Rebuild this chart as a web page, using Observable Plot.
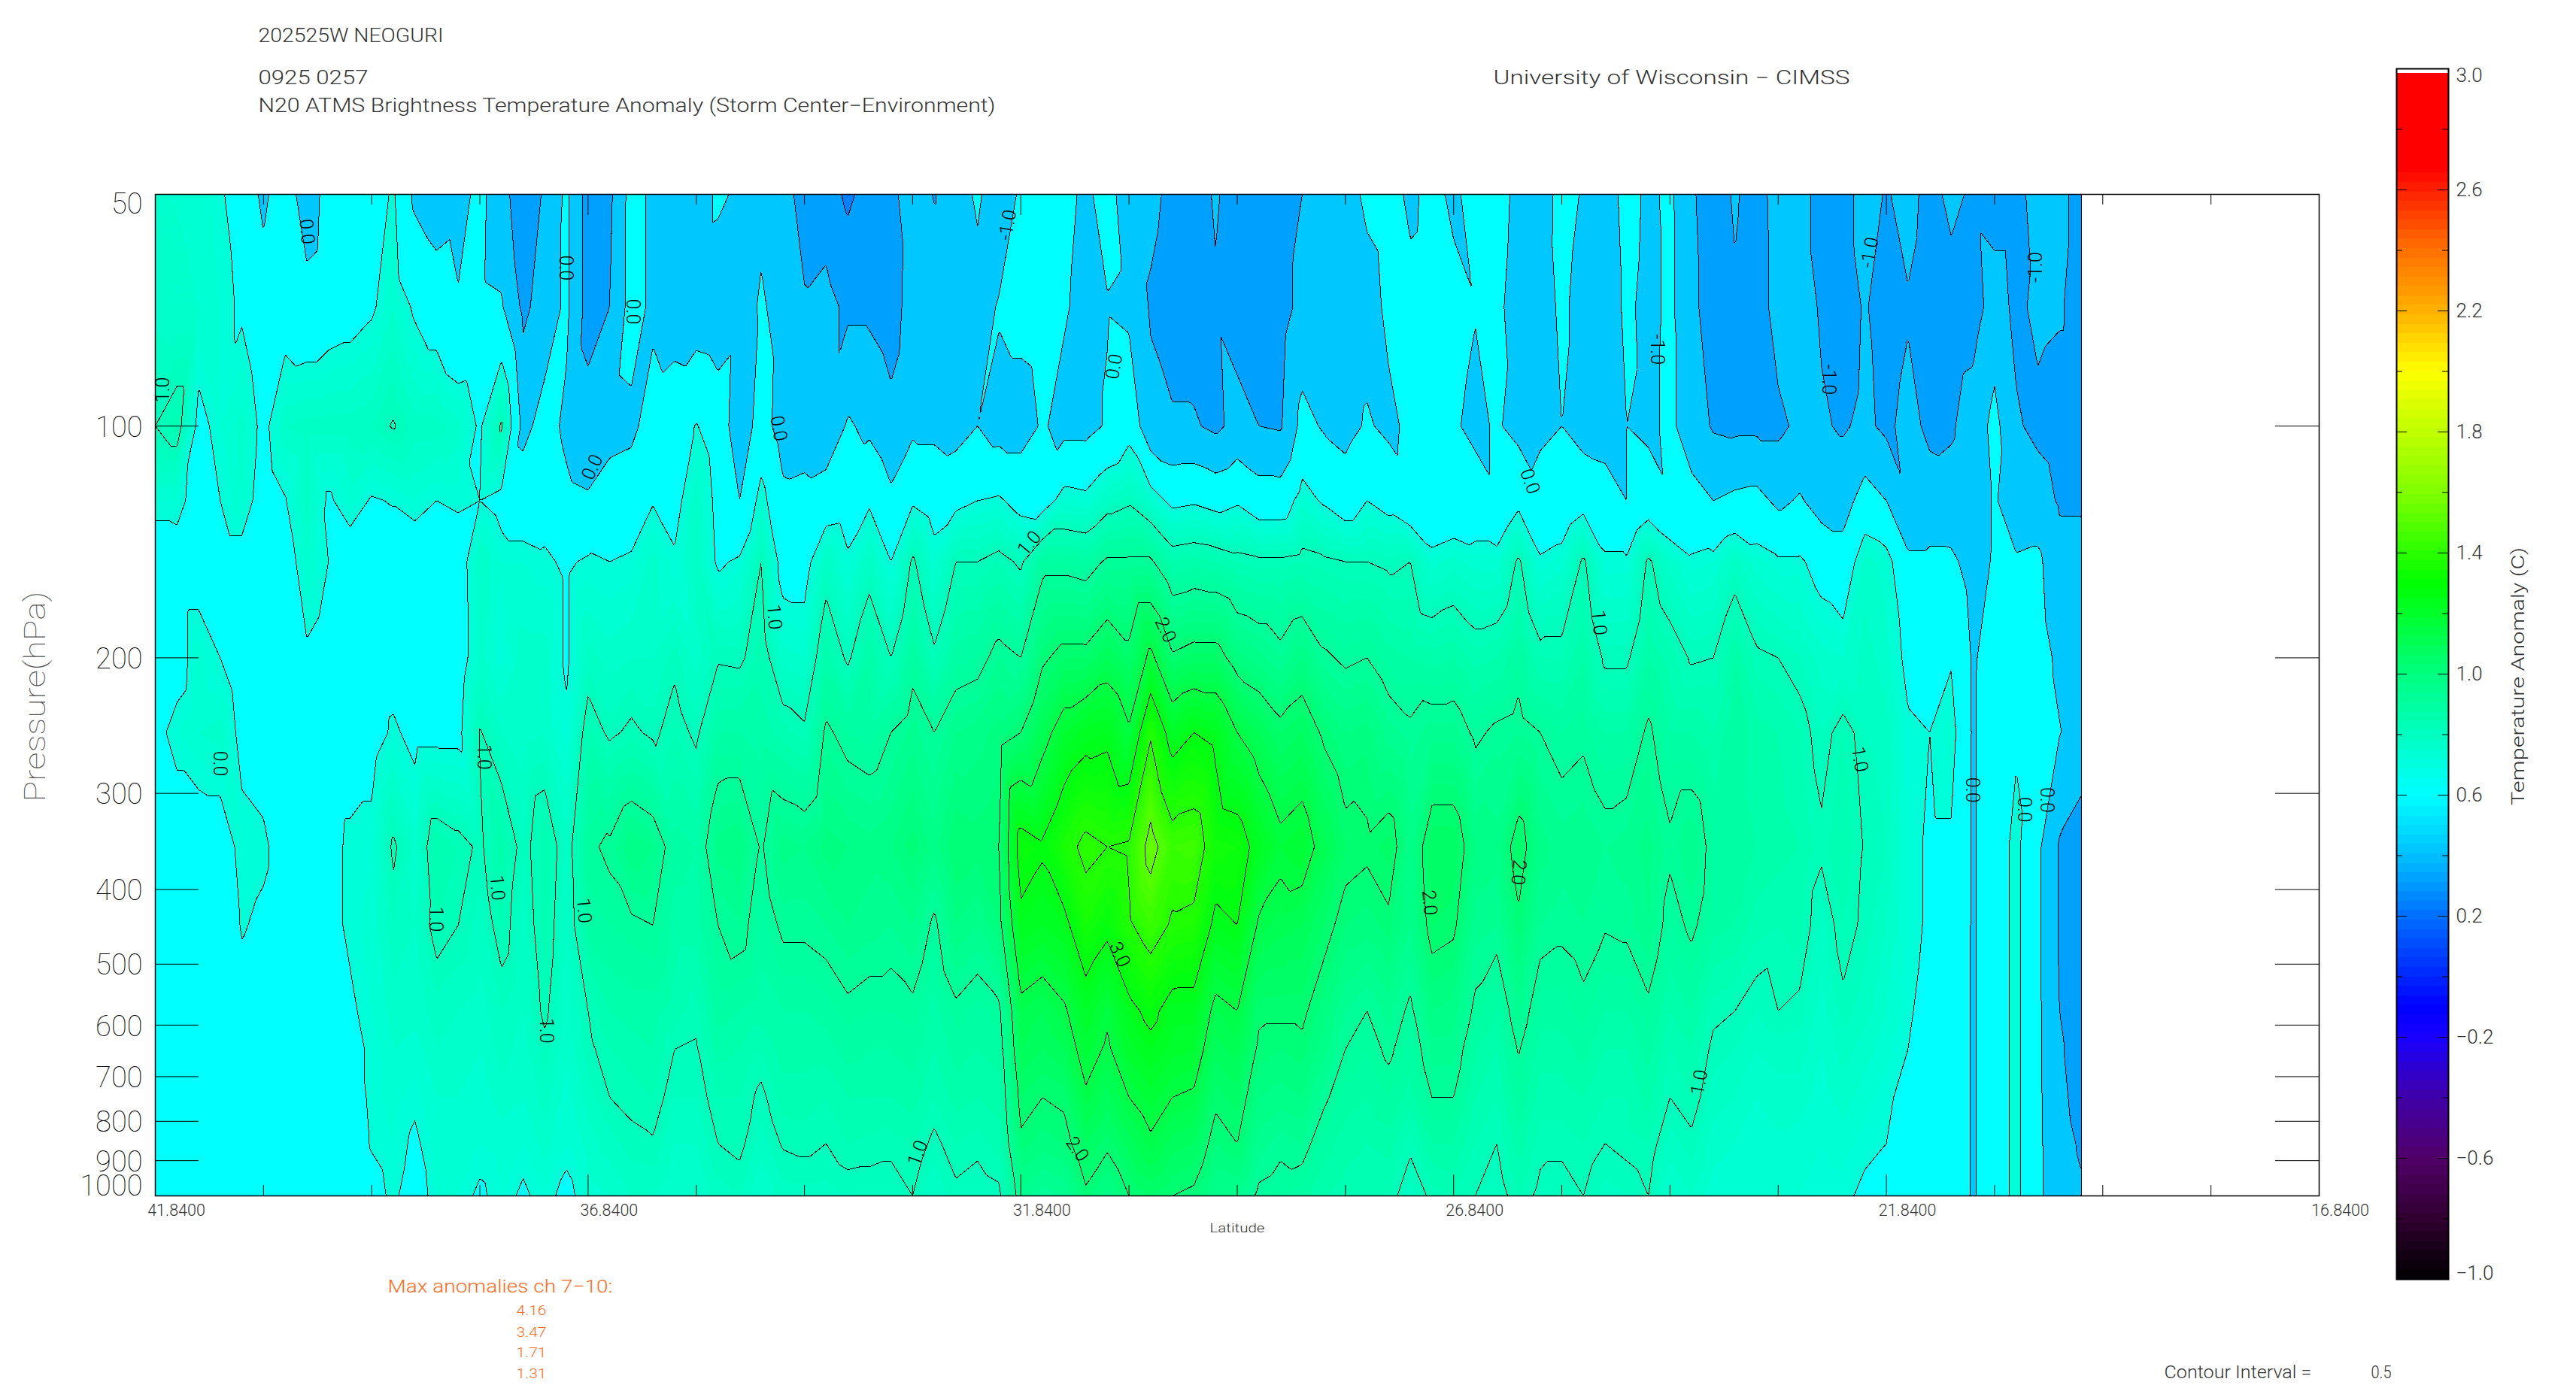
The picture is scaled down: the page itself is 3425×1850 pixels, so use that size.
<!DOCTYPE html>
<html><head><meta charset="utf-8">
<script src="https://cdn.jsdelivr.net/npm/d3@7"></script>
<script src="https://cdn.jsdelivr.net/npm/@observablehq/plot@0.6"></script>
<style>
html,body{margin:0;padding:0;background:#fff;width:3425px;height:1850px;overflow:hidden}
#stack{position:relative;width:3425px;height:1850px}
#stack svg{position:absolute;left:0;top:0;background:transparent}
</style></head><body><div id="stack"></div>
<script>
const lats=[41.84,41.59,41.34,41.09,40.84,40.59,40.34,40.09,39.84,39.59,39.34,39.09,38.84,38.59,38.34,38.09,37.84,37.59,37.34,37.09,36.84,36.59,36.34,36.09,35.84,35.59,35.34,35.09,34.84,34.59,34.34,34.09,33.84,33.59,33.34,33.09,32.84,32.59,32.34,32.09,31.84,31.59,31.34,31.09,30.84,30.59,30.34,30.09,29.84,29.59,29.34,29.09,28.84,28.59,28.34,28.09,27.84,27.59,27.34,27.09,26.84,26.59,26.34,26.09,25.84,25.59,25.34,25.09,24.84,24.59,24.34,24.09,23.84,23.59,23.34,23.09,22.84,22.59,22.34,22.09,21.84,21.59,21.34,21.09,20.84,20.59,20.34,20.09,19.84,19.59];
const p50=[.7,.7,.65,.55,.3,-.1,.3,-.3,.2,.3, .3,.55,-.1,-.3,-.2,.15,-.35,-.75,-.45,.1, -.7,-.6,.2,-.1,-.3,-.3,.1,-.1,-.1,-.3, -.7,-.75,-1.1,-.8,-.6,-.3,-.52,-.3,.1,-.4, .1,.2,.15,-.1,.2,-.3,-.4,-.6,-.7,-.45, -.7,-.7,-.7,-.5,-.3,-.2,.1,.2,-.1,.15, -.1,.2,.3,-.2,-.3,.2,-.05,-.3,.2,-.1, .1,-.45,-.7,-.45,-.7,-.3,-.3,-.7,-.75,-.25, -.55,-.3,-.7,-.35,-.6,-.7,-.7,-.25,-.35,-.7];
const p70=[.75,.7,.7,.6,.45,.2,.3,.2,.3,.35, .45,.7,.45,.3,.05,.1,.05,-.6,-.3,.1, -.7,-.5,.2,-.1,-.25,-.3,-.35,-.2,.05,-.15, -.45,-.35,-.6,-.6,-.75,-.25,-.3,-.3,-.25,.05, .15,.2,.05,-.15,-.03,-.1,-.55,-.7,-.75,-.55, -.7,-.7,-.7,-.35,-.3,-.25,-.2,.1,.15,.2, .15,.02,.15,-.3,-.25,.1,-.2,-.3,.1,-.15, .1,-.4,-.7,-.55,-.75,-.3,-.3,-.55,-.75,-.45, -.75,-.55,-.8,-.75,-.7,-.3,-.6,-.4,-.45,-.7];
const p100=[1.0,1.15,.4,.6,.75,.4,.8,.85,.85,.85, .9,1.02,.85,.85,.75,.45,1.05,-.15,.2,-.1, -.3,-.15,-.1,.2,.3,.52,.3,-.3,.2,-.2, -.25,-.35,.05,-.1,-.35,-.1,-.1,-.2,0,-.2, -.2,.05,-.15,-.15,.05,.35,-.35,-.45,-.45,-.6, -.35,-.5,-.55,.15,-.05,-.15,.05,-.1,.1,.15, .05,-.1,.05,-.15,-.05,0,-.2,-.25,0,-.1, .1,-.25,-.55,-.6,-.6,-.6,-.4,-.45,-.55,-.4, -.6,-.35,-.6,-.55,-.3,.15,-.45,-.6,-.7,-.7];
const p125=[.6,.6,.35,.5,.7,.3,.48,.85,.45,.65, .47,.52,.6,.5,.55,.5,.4,.3,.35,.1, .05,.2,.25,.48,.35,.8,.4,0,.65,.1, .15,.25,.3,.45,.1,.45,.3,.4,.5,.55, .35,.3,.65,.6,.85,.95,.7,.4,.45,.35, .45,.25,.25,.65,.45,.25,.5,.35,.15,0, .1,.2,.05,.4,.1,.15,.35,.25,0,.25, .05,.15,0,.1,.15,-.1,.05,-.2,-.2,.2, 0,-.45,-.3,-.35,-.25,.05,-.3,-.3,-.55,-.55];
const p150=[.3,.35,.35,.35,.35,.3,.3,.7,.5,.3, .3,.3,.3,.3,.3,.8,.6,.6,.55,.45, .55,.5,.55,.75,.55,.85,.45,.55,1.0,.35, .35,.85,.55,.85,.5,1.05,.65,1.0,1.0,1.1, .95,1.4,1.4,1.35,1.55,1.55,1.55,1.2,1.25,1.2, 1.1,1.05,1.05,1.1,1.05,1.0,1.0,.95,1.0,.65, .75,.65,.65,1.05,.55,.65,1.05,.55,.55,1.05, .75,.55,.6,.85,.65,.55,.55,.35,.2,.75, .65,.1,.1,.1,-.2,.05,.05,.1,-.35,-.35];
const p200=[.3,.35,.65,.5,.3,.4,.35,.45,.35,.35, .3,.35,.3,.3,.3,.75,.55,.75,.75,.45, .85,.75,.8,.8,.95,.75,.97,.95,1.15,.75, .7,1.25,.95,1.3,1.0,1.4,1.05,1.35,1.4,1.6, 1.5,1.95,2.1,2.1,2.3,2.1,2.6,2.05,2.15,2.15, 1.85,1.75,1.6,1.8,1.55,1.45,1.5,1.35,1.3,1.25, 1.3,1.15,1.2,1.4,1.1,1.1,1.3,.95,.95,1.3, 1.15,.97,1.0,1.3,1.05,1.0,.9,.75,.7,.85, .75,.4,.35,.47,-.05,.2,.2,.2,-.1,-.3];
const p250=[.4,.6,.7,.75,.4,.35,.35,.4,.35,.35, .35,.55,.4,.4,.4,1.02,.8,.75,.8,.55, 1.15,.95,1.05,.95,1.1,.95,1.3,1.3,1.25,1.15, 1.05,1.55,1.4,1.35,1.5,1.65,1.5,1.7,1.75,1.85, 2.0,2.35,2.7,2.85,2.9,2.55,3.45,2.8,3.0,2.9, 2.5,2.3,2.1,2.2,1.95,1.8,1.85,1.65,1.55,1.65, 1.65,1.45,1.55,1.6,1.5,1.4,1.45,1.3,1.3,1.55, 1.3,1.3,1.2,1.4,1.25,1.2,1.1,.9,1.1,.9, .85,.55,.5,.65,-.05,.25,.45,.25,.02,-.25];
const p350=[.3,.3,.3,.3,.6,.55,.35,.35,.4,.55, .6,1.05,.75,1.2,1.1,.95,1.25,.9,1.2,.85, 1.45,1.55,1.8,1.7,1.35,1.3,1.75,1.8,1.47,1.75, 1.7,1.85,1.8,1.75,1.8,1.95,1.75,2.0,1.95,2.0, 3.2,3.05,3.35,3.6,3.5,3.55,4.16,3.7,3.75,3.25, 3.2,2.85,2.6,2.7,2.35,2.1,2.05,2.15,1.75,2.2, 2.2,1.8,1.75,2.15,1.75,1.65,1.7,1.6,1.65,1.75, 1.55,1.7,1.4,1.35,1.3,1.25,1.2,1.05,1.2,.98, .9,.6,.45,.45,-.05,.3,.6,.1,-.55,-.7];
const p440=[.3,.3,.3,.3,.52,.45,.35,.35,.4,.55, .65,.9,.8,1.1,1.0,.85,1.1,.85,1.15,.8, 1.35,1.4,1.45,1.5,1.25,1.25,1.5,1.6,1.35,1.55, 1.55,1.6,1.7,1.65,1.6,1.7,1.45,1.8,1.7,1.9, 2.9,2.8,2.9,3.3,3.1,3.45,3.7,3.45,3.4,2.9, 3.0,2.45,2.35,2.3,2.1,1.9,1.85,1.95,1.7,2.1, 2.05,1.65,1.6,1.95,1.6,1.55,1.6,1.52,1.55,1.7, 1.4,1.55,1.35,1.3,1.15,1.1,1.15,.85,1.1,.95, .8,.6,.45,.4,-.05,.3,.6,.1,-.55,-.75];
const p570=[.3,.3,.3,.3,.4,.35,.3,.3,.35,.45, .6,.75,.75,.85,.8,.75,.9,.8,1.05,.75, 1.0,1.2,1.25,1.25,1.15,1.05,1.35,1.3,1.25,1.3, 1.3,1.35,1.45,1.4,1.4,1.45,1.25,1.45,1.35,1.45, 2.4,2.3,2.45,2.8,2.55,2.9,3.1,2.85,2.85,2.4, 2.5,2.05,2.05,2.05,1.85,1.6,1.5,1.65,1.45,1.8, 1.75,1.45,1.3,1.65,1.35,1.35,1.45,1.3,1.3,1.45, 1.2,1.3,1.05,1.0,.9,1.0,.95,.75,.95,.85, .7,.55,.35,.3,-.05,.3,.6,.1,-.5,-.7];
const p640=[.3,.3,.3,.3,.3,.3,.3,.3,.3,.4, .55,.7,.65,.8,.75,.7,.85,.75,.95,.72, .95,1.1,1.15,1.2,1.0,.98,1.25,1.2,1.1,1.25, 1.25,1.25,1.35,1.3,1.3,1.35,1.2,1.35,1.3,1.35, 2.3,2.2,2.3,2.65,2.45,2.75,2.9,2.75,2.7,2.25, 2.35,1.95,1.9,1.95,1.75,1.5,1.4,1.55,1.35,1.65, 1.65,1.3,1.2,1.52,1.25,1.25,1.35,1.2,1.2,1.35, 1.1,1.2,.95,.9,.8,.85,.85,.7,.85,.75, .65,.5,.35,.3,-.05,.3,.6,.1,-.45,-.7];
const p740=[.3,.3,.3,.3,.3,.3,.3,.3,.3,.35, .55,.65,.55,.7,.7,.65,.75,.7,.85,.65, .85,1.0,1.05,1.1,.9,.9,1.1,1.1,.95,1.15, 1.15,1.1,1.2,1.2,1.2,1.25,1.1,1.25,1.2,1.25, 2.1,2.0,2.05,2.45,2.25,2.5,2.65,2.5,2.45,2.05, 2.15,1.8,1.75,1.8,1.55,1.35,1.3,1.4,1.25,1.5, 1.5,1.2,1.1,1.4,1.15,1.15,1.2,1.1,1.1,1.25, 1.0,1.1,.85,.8,.7,.75,.75,.65,.75,.65, .55,.4,.3,.3,-.05,.3,.6,.1,-.4,-.65];
const p850=[.3,.3,.3,.3,.3,.3,.3,.3,.3,.35, .52,.6,.45,.65,.65,.6,.65,.6,.75,.6, .75,.85,.95,.98,.8,.8,1.0,1.05,.85,1.02, 1.05,1.0,1.1,1.08,1.05,1.12,.95,1.1,1.05,1.15, 1.95,1.85,1.9,2.2,2.05,2.25,2.45,2.25,2.2,1.9, 2.0,1.65,1.55,1.6,1.35,1.25,1.2,1.25,1.05,1.3, 1.3,1.1,1.0,1.25,1.05,1.05,1.1,1.0,1.05,1.1, .85,.95,.75,.7,.65,.68,.65,.6,.65,.55, .5,.35,.3,.3,-.05,.3,.6,.1,-.35,-.55];
const p1000=[.3,.3,.3,.3,.3,.3,.3,.3,.3,.3, .4,.55,.35,.6,.6,.45,.6,.45,.6,.4, .65,.7,.8,.8,.7,.7,.85,.9,.7,.85, .85,.85,.9,.9,.9,1.0,.8,.95,.9,.95, 1.65,1.55,1.6,1.95,1.75,2.0,2.1,2.0,1.95,1.7, 1.7,1.45,1.4,1.35,1.2,1.15,1.15,1.1,.85,1.05, 1.1,1.0,.9,1.1,.95,.9,1.0,.85,.9,1.0, .7,.8,.65,.65,.6,.6,.6,.55,.55,.45, .4,.3,.3,.3,-.05,.3,.6,.1,-.3,-.45];
const levels=[50,70,100,125,150,200,250,352,445,575,645,745,855,1000];
const series=[p50,p70,p100,p125,p150,p200,p250,p350,p440,p570,p640,p740,p850,p1000];
const pressureTicks=[100,200,300,400,500,600,700,800,900];
const latMajor=[41.84,36.84,31.84,26.84,21.84,16.84];
const latLabels=["41.8400","36.8400","31.8400","26.8400","21.8400","16.8400"];
const latMinor=[40.59,39.34,38.09,35.59,34.34,33.09,30.59,29.34,28.09,25.59,24.34,23.09,20.59,19.34,18.09];
const contourLabels=[
[40.09,55.9,"0.0",85],[37.10,62.3,"0.0",90],[36.33,71,"0.0",90],[36.79,113.1,"0.0",-65],[41.75,89.7,"1.0",-90],
[41.10,274.4,"0.0",90],[38.05,269,"1.0",90],[38.60,437,"1.0",90],[37.89,398,"1.0",85],[37.33,610,"1.0",90],[36.89,426,"1.0",85],
[34.64,100.7,"0.0",80],[31.99,54.8,"-1.0",-80],[30.76,83.7,"0.0",-80],[31.74,142,"1.0",-50],[34.69,177,"1.0",85],[30.17,184,"2.0",65],
[25.96,118,"0.0",70],[24.49,79.5,"-1.0",90],[22.51,87,"-1.0",90],[22.03,59.5,"-1.0",-80],[20.11,62.2,"-1.0",-90],[25.16,180,"1.0",85],
[30.7,486,"3.0",65],[33.03,880,"1.0",-70],[31.19,870,"2.0",55],
[22.15,271,"1.0",80],[20.85,297,"0.0",90],[20.25,315,"0.0",90],[19.99,306,"0.0",90],[27.12,416,"2.0",85],[26.09,380,"2.0",95],[24.0,712,"1.0",-80]];
const fillThresholds=[-2,-1,-.5,0,.5,.6,.7,.8,.9,1,1.1,1.2,1.3,1.4,1.5,1.6,1.7,1.8,1.9,2,2.1,2.2,2.3,2.4,2.5,2.6,2.7,2.8,2.9,3,3.1,3.2,3.3,3.4,3.5,3.6,3.7,3.8,3.9,4,4.1];
const lineThresholds=[-1,-.5,0,.5,1,1.5,2,2.5,3,3.5,4];
const fillDomain=[-2,-1,-.5,0,.5,1,1.5,2,2.5,3,3.5,4,4.5];
const fillRange=["#0080ff","#00a0ff","#00c8ff","#00ffff","#00ffd8","#00ffb8","#00ff98","#00ff70","#00ff40","#00ff10","#28ff00","#60ff00","#80ff00"];
const barStops=[-1,-.8,-.6,-.4,-.2,-.1,.2,.4,.6,1,1.3,1.6,2,2.2,2.4,2.6,2.67,3];
const barColors=["#000000","#300030","#500068","#4000a8","#1800ff","#0000ff","#0070ff","#00c0ff","#00ffff","#00ff80","#00ff00","#80ff00","#ffff00","#ffb000","#ff7000","#ff2000","#ff0000","#ff0000"];
const barTicks=[3.0,2.6,2.2,1.8,1.4,1.0,.6,.2,-.2,-.6,-1.0];
const barMinor=[2.8,2.4,2.0,1.6,1.2,.8,.4,0,-.4,-.8];
const notes=["202525W NEOGURI","0925 0257","N20 ATMS Brightness Temperature Anomaly (Storm Center\u2212Environment)","University of Wisconsin \u2212 CIMSS","Pressure(hPa)","Latitude","Temperature Anomaly (C)","Contour Interval =","0.5"];
const maxTitle="Max anomalies ch 7\u221210:";
const maxValues=["4.16","3.47","1.71","1.31"];

const FONT="Roboto";
const grid=levels.flatMap((p,r)=>series[r].map((v,i)=>({lat:lats[i],p,v})));
const stack=document.getElementById("stack");
const W=3425,H=1850,mL=206,mR=342,mT=258,mB=260,fW=W-mL-mR,fH=H-mT-mB;
const thin={fontFamily:FONT,fontWeight:300,fill:"#333"};
const big={fontFamily:FONT,fontWeight:100,fill:"#000"};

const main=Plot.plot({
  width:W,height:H,marginLeft:mL,marginRight:mR,marginTop:mT,marginBottom:mB,
  style:{background:"transparent"},
  x:{domain:[41.84,16.84],axis:null},
  y:{type:"log",domain:[50,1000],reverse:true,axis:null},
  color:{type:"linear",domain:fillDomain,range:fillRange,interpolate:"rgb",legend:false},
  marks:[
    Plot.contour(grid,{x:"lat",y:"p",fill:"v",thresholds:fillThresholds,interpolate:"barycentric",x1:lats[0],x2:lats[lats.length-1],y1:50,y2:1000,pixelSize:2,stroke:"none"}),
    Plot.contour(grid,{x:"lat",y:"p",value:"v",thresholds:lineThresholds,interpolate:"barycentric",x1:lats[0],x2:lats[lats.length-1],y1:50,y2:1000,pixelSize:2,fill:"none",stroke:"#000",strokeWidth:1,shapeRendering:"crispEdges"}),
    Plot.text(contourLabels,{x:d=>d[0],y:d=>d[1],text:d=>d[2],rotate:d=>d[3],fontSize:25,fontFamily:FONT,fontWeight:300,fill:"#000"}),
    Plot.ruleY(pressureTicks,{y:d=>d,insetRight:fW-58,stroke:"#000",strokeWidth:1}),
    Plot.ruleY(pressureTicks,{y:d=>d,insetLeft:fW-58,stroke:"#000",strokeWidth:1}),
    Plot.ruleX(latMinor,{x:d=>d,insetTop:fH-14,stroke:"#000",strokeWidth:1}),
    Plot.ruleX(latMinor,{x:d=>d,insetBottom:fH-14,stroke:"#000",strokeWidth:1}),
    Plot.ruleX(latMajor,{x:d=>d,insetTop:fH-28,stroke:"#000",strokeWidth:1}),
    Plot.ruleX(latMajor,{x:d=>d,insetBottom:fH-28,stroke:"#000",strokeWidth:1}),
    Plot.frame({stroke:"#000",strokeWidth:1.5}),
    Plot.text(pressureTicks,{x:()=>41.84,y:d=>d,text:d=>String(d),textAnchor:"end",dx:-17,dy:2,fontSize:38,letterSpacing:"1px",...big}),
    Plot.text([50],{x:()=>41.84,y:d=>d,text:d=>String(d),textAnchor:"end",dx:-17,dy:13,fontSize:38,letterSpacing:"1px",...big}),
    Plot.text([1000],{x:()=>41.84,y:d=>d,text:d=>String(d),textAnchor:"end",dx:-17,dy:-13,fontSize:38,letterSpacing:"1px",...big}),
    Plot.text(latLabels,{x:(d,i)=>latMajor[i],y:()=>1000,text:d=>d,dx:28,dy:20,fontSize:21.5,...thin})
  ]
});
stack.appendChild(main);

const barColor=d3.scaleLinear().domain(barStops).range(barColors);
const barCells=d3.range(0,128).map(i=>{const a=-1+i/32,b=-1+(i+1)/32;return {a,b:Math.min(b,2.985)};});
const bar=Plot.plot({
  width:W,height:H,marginLeft:3186,marginRight:W-3255,marginTop:91,marginBottom:H-1701,
  style:{background:"transparent"},
  x:{domain:[0,1],axis:null},y:{domain:[-1,3],axis:null},
  marks:[
    Plot.rect(barCells,{x1:()=>0,x2:()=>1,y1:"a",y2:"b",fill:d=>barColor((d.a+d.b)/2),shapeRendering:"crispEdges"}),
    Plot.frame({stroke:"#000",strokeWidth:2}),
    Plot.ruleY(barTicks,{y:d=>d,insetRight:69-14,stroke:"#000"}),
    Plot.ruleY(barTicks,{y:d=>d,insetLeft:69-14,stroke:"#000"}),
    Plot.ruleY(barMinor,{y:d=>d,insetRight:69-8,stroke:"#000"}),
    Plot.ruleY(barMinor,{y:d=>d,insetLeft:69-8,stroke:"#000"}),
    Plot.text(barTicks.slice(1,-1),{x:()=>1,y:d=>d,text:d=>d.toFixed(1).replace("-","\u2212"),textAnchor:"start",dx:10,fontSize:26,letterSpacing:"2px",...thin}),
    Plot.text([3.0],{x:()=>1,y:d=>d,text:d=>d.toFixed(1),textAnchor:"start",dx:10,dy:9,fontSize:26,letterSpacing:"2px",...thin}),
    Plot.text([-1.0],{x:()=>1,y:d=>d,text:d=>"\u2212"+Math.abs(d).toFixed(1),textAnchor:"start",dx:10,dy:-8,fontSize:26,letterSpacing:"2px",...thin})
  ]
});
stack.appendChild(bar);

// page annotations: each note is placed by this layout table [x, baseline y, width, size, rotate]
const noteLayout=[[343,55,246,25,0],[343,111,146,25,0],[343,148,980,25,0],[1985,111,474,25,0],[59,926,280,38,-90],[1608,1638,73,17,0],[3355,899,343,24,-90],[2877,1832,196,23,0],[3152,1832,27,23,0]];
const maxLayout=[[515,1718,299,24],[686,1748,40,19],[686,1777,40,19],[686,1804,40,19],[686,1832,40,19]];
const noteRows=notes.map((t,i)=>({t,x:noteLayout[i][0],y:noteLayout[i][1],w:noteLayout[i][2],s:noteLayout[i][3],r:noteLayout[i][4],c:i===4?"#555":"#333",f:i===4?100:300}));
[maxTitle,...maxValues].forEach((t,i)=>noteRows.push({t,x:maxLayout[i][0],y:maxLayout[i][1],w:maxLayout[i][2],s:maxLayout[i][3],r:0,c:"#ff6a20",f:300}));
const ann=Plot.plot({
  width:W,height:H,margin:0,style:{background:"transparent"},
  x:{type:"identity",axis:null},y:{type:"identity",axis:null},
  marks:[Plot.text(noteRows,{x:"x",y:"y",text:"t",rotate:"r",fontSize:"s",fill:"c",fontFamily:FONT,textAnchor:"start",lineAnchor:"bottom"})]
});
d3.select(ann).selectAll("text").each(function(d,i){
  const row=noteRows[i]; if(!row) return;
  const el=d3.select(this);
  el.attr("textLength",row.w).attr("lengthAdjust","spacingAndGlyphs").attr("font-weight",row.f);
  if(row.r) el.attr("text-anchor","middle");
});
stack.appendChild(ann);
</script></body></html>
